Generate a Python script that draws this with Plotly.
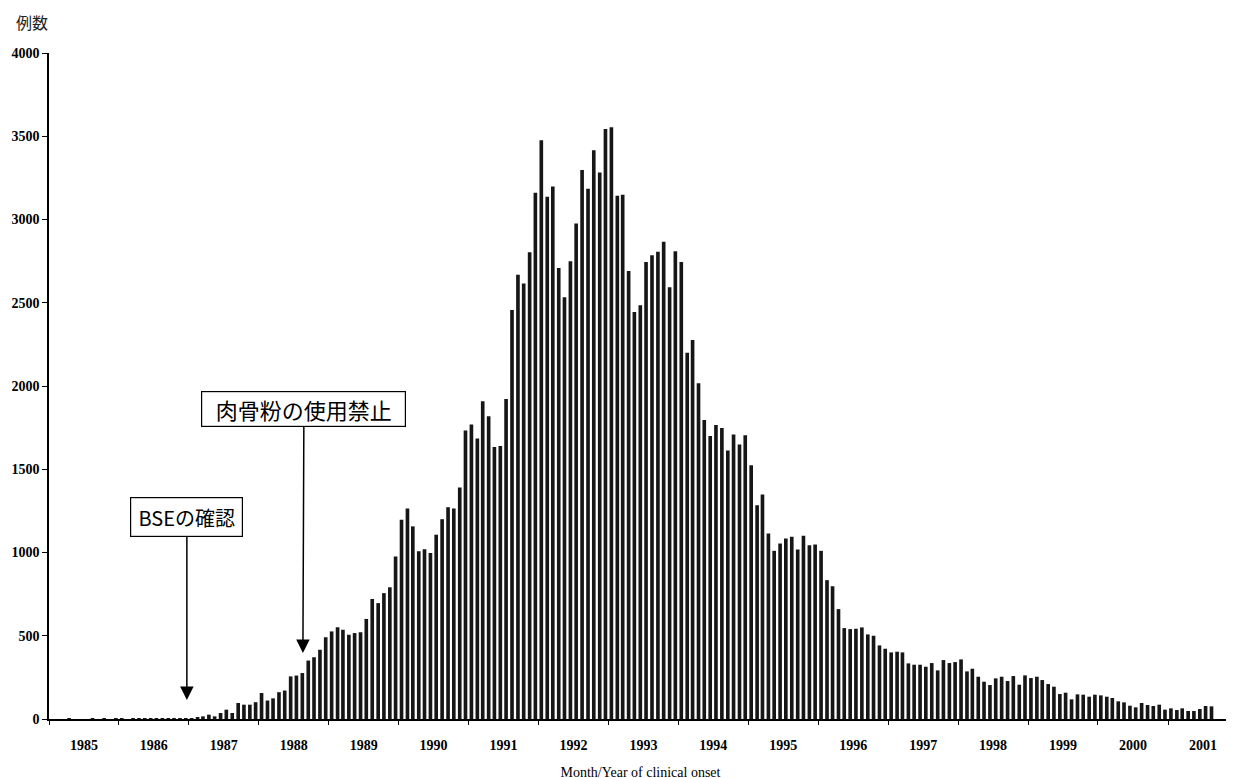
import pandas as pd
import plotly.graph_objects as go

# Monthly confirmed BSE cases by month/year of clinical onset
years = list(range(1985, 2002))
y1985 = [0, 0, 0, 1, 0, 0, 0, 1, 0, 1, 0, 1]
y1986 = [1, 0, 2, 1, 2, 3, 2, 3, 4, 5, 4, 6]
y1987 = [4, 7, 16, 26, 16, 36, 56, 36, 96, 86, 86, 101]
y1988 = [156, 111, 124, 161, 171, 256, 261, 276, 351, 371, 416, 491]
y1989 = [526, 551, 536, 506, 516, 521, 601, 721, 696, 756, 791, 976]
y1990 = [1197, 1265, 1157, 1008, 1020, 997, 1107, 1200, 1272, 1265, 1390, 1732]
y1991 = [1769, 1684, 1909, 1818, 1634, 1640, 1922, 2457, 2668, 2616, 2803, 3160]
y1992 = [3476, 3136, 3198, 2709, 2533, 2749, 2976, 3297, 3184, 3416, 3282, 3543]
y1993 = [3554, 3143, 3149, 2690, 2445, 2485, 2745, 2785, 2806, 2866, 2593, 2810]
y1994 = [2745, 2199, 2276, 2016, 1796, 1700, 1766, 1748, 1612, 1708, 1648, 1704]
y1995 = [1524, 1284, 1348, 1114, 1010, 1054, 1084, 1094, 1018, 1100, 1044, 1048]
y1996 = [1010, 834, 798, 660, 546, 540, 542, 550, 508, 500, 442, 422]
y1997 = [400, 404, 400, 334, 326, 326, 314, 336, 292, 354, 336, 342]
y1998 = [358, 286, 302, 254, 224, 204, 244, 254, 228, 258, 206, 262]
y1999 = [246, 254, 234, 210, 194, 150, 158, 118, 148, 146, 134, 146]
y2000 = [142, 134, 126, 106, 100, 80, 70, 96, 84, 78, 86, 56]
y2001 = [64, 54, 64, 48, 48, 60, 78, 76]

yearly = [y1985, y1986, y1987, y1988, y1989, y1990, y1991, y1992, y1993,
          y1994, y1995, y1996, y1997, y1998, y1999, y2000, y2001]

y_ticks = [0, 500, 1000, 1500, 2000, 2500, 3000, 3500, 4000]
y_title = "例数"
x_title = "Month/Year of clinical onset"
note_bse = "BSEの確認"
note_ban = "肉骨粉の使用禁止"

months, cases = [], []
for yr, vals in zip(years, yearly):
    for m, v in enumerate(vals):
        months.append(pd.Timestamp(year=yr, month=m + 1, day=1) + pd.Timedelta(days=15))
        cases.append(v)

bar_width_ms = 19.0 * 86400000

fig = go.Figure()
fig.add_trace(go.Bar(
    x=months, y=cases,
    width=[bar_width_ms] * len(cases),
    marker=dict(color="#161616", line=dict(width=0)),
    hoverinfo="x+y",
))

serif = "Liberation Serif"
cjk = "Noto Sans CJK JP"

fig.update_layout(
    width=1234, height=778,
    margin=dict(l=41, r=10, t=45, b=67, autoexpand=False),
    paper_bgcolor="white", plot_bgcolor="white",
    showlegend=False,
    xaxis=dict(
        type="date", automargin=False,
        range=["1985-01-01", "2001-12-01"],
        dtick="M12", tick0="1985-01-01",
        tickformat="%Y", ticklabelmode="period",
        ticks="outside", ticklen=4, tickwidth=1.2, tickcolor="black",
        showline=True, linecolor="black", linewidth=1.5,
        showgrid=False, zeroline=False,
        tickfont=dict(family=serif, size=14, color="black", weight="bold"),
        ticklabelstandoff=8,
        title=dict(text=x_title, font=dict(family=serif, size=14, color="black"), standoff=16),
    ),
    yaxis=dict(
        range=[0, 4000], automargin=False,
        tickvals=y_ticks,
        ticks="outside", ticklen=5, tickwidth=1.2, tickcolor="black",
        showline=True, linecolor="black", linewidth=1.5,
        showgrid=False, zeroline=False,
        tickfont=dict(family=serif, size=14, color="black", weight="bold"),
    ),
    annotations=[
        dict(text=y_title, xref="paper", yref="paper", x=-0.0144, y=1.0465,
             showarrow=False, font=dict(family=cjk, size=16, color="#222"),
             xanchor="center", yanchor="middle"),
        dict(text=note_bse, x="1986-12-22", y=114, xref="x", yref="y",
             ax=0, ay=-183, showarrow=True, arrowhead=2, arrowsize=1.8,
             arrowwidth=1.5, arrowcolor="black",
             width=105, height=32,
             font=dict(family=cjk, size=20, color="black"),
             bordercolor="black", borderwidth=1.2, borderpad=3, bgcolor="white"),
        dict(text=note_ban, x="1988-08-19", y=396, xref="x", yref="y",
             ax=1, ay=-244, showarrow=True, arrowhead=2, arrowsize=1.8,
             arrowwidth=1.5, arrowcolor="black",
             width=197, height=28,
             font=dict(family=cjk, size=22, color="black"),
             bordercolor="black", borderwidth=1.2, borderpad=3, bgcolor="white"),
    ],
)

fig.write_html("out.html")
